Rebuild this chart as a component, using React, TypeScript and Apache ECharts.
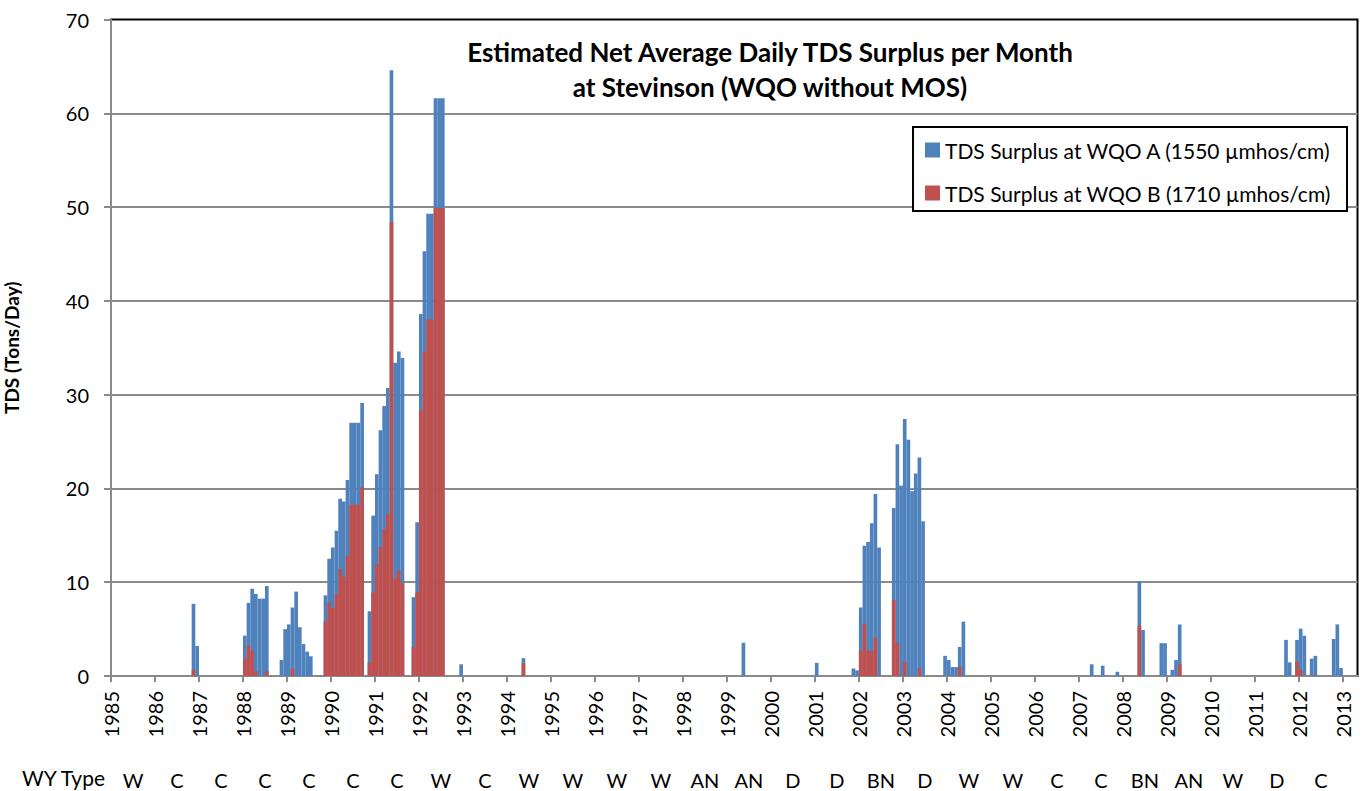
import React, { useEffect, useRef } from "react";
import * as echarts from "echarts";

// Months are counted from January 1985 (index 0)
const START_YEAR = 1985;
const TOTAL_MONTHS = 340;

const yearLabels = [
  "1985", "1986", "1987", "1988", "1989", "1990", "1991", "1992", "1993", "1994",
  "1995", "1996", "1997", "1998", "1999", "2000", "2001", "2002", "2003", "2004",
  "2005", "2006", "2007", "2008", "2009", "2010", "2011", "2012", "2013",
];

const wyTypes = [
  "W", "C", "C", "C", "C", "C", "C", "W", "C", "W", "W", "W", "W", "AN",
  "AN", "D", "D", "BN", "D", "W", "W", "C", "C", "BN", "AN", "W", "D", "C",
];

// TDS Surplus at WQO A (1550 µmhos/cm) — [month, tons/day]
const surplusA: [string, number][] = [
  ["1986-11", 7.7], ["1986-12", 3.2],
  ["1988-01", 4.3], ["1988-02", 7.8], ["1988-03", 9.3], ["1988-04", 8.75],
  ["1988-05", 8.25], ["1988-06", 8.25], ["1988-07", 9.6],
  ["1988-11", 1.7], ["1988-12", 5.0], ["1989-01", 5.5], ["1989-02", 7.3],
  ["1989-03", 9.0], ["1989-04", 5.2], ["1989-05", 3.4], ["1989-06", 2.6], ["1989-07", 2.1],
  ["1989-11", 8.6], ["1989-12", 12.5], ["1990-01", 13.7], ["1990-02", 15.5],
  ["1990-03", 18.9], ["1990-04", 18.6], ["1990-05", 20.9], ["1990-06", 27.0],
  ["1990-07", 27.0], ["1990-08", 27.0], ["1990-09", 29.1],
  ["1990-11", 6.9], ["1990-12", 17.1], ["1991-01", 21.5], ["1991-02", 26.2],
  ["1991-03", 28.8], ["1991-04", 30.7], ["1991-05", 64.6], ["1991-06", 33.4],
  ["1991-07", 34.6], ["1991-08", 33.9],
  ["1991-11", 8.4], ["1991-12", 16.4], ["1992-01", 38.6], ["1992-02", 45.3],
  ["1992-03", 49.3], ["1992-04", 49.3], ["1992-05", 61.6], ["1992-06", 61.6], ["1992-07", 61.6],
  ["1992-12", 1.25], ["1994-05", 1.9], ["1999-05", 3.55], ["2001-01", 1.4],
  ["2001-11", 0.8], ["2001-12", 0.6], ["2002-01", 7.3], ["2002-02", 13.9],
  ["2002-03", 14.3], ["2002-04", 16.3], ["2002-05", 19.4], ["2002-06", 13.7],
  ["2002-10", 17.9], ["2002-11", 24.7], ["2002-12", 20.3], ["2003-01", 27.4],
  ["2003-02", 25.2], ["2003-03", 19.7], ["2003-04", 21.6], ["2003-05", 23.3], ["2003-06", 16.5],
  ["2003-12", 2.15], ["2004-01", 1.7], ["2004-02", 0.95], ["2004-03", 0.95],
  ["2004-04", 3.1], ["2004-05", 5.8],
  ["2007-04", 1.25], ["2007-07", 1.1], ["2007-11", 0.45],
  ["2008-05", 10.1], ["2008-06", 4.9], ["2008-11", 3.5], ["2008-12", 3.5],
  ["2009-02", 0.65], ["2009-03", 1.7], ["2009-04", 5.5],
  ["2011-09", 3.85], ["2011-10", 1.45], ["2011-12", 3.85], ["2012-01", 5.05],
  ["2012-02", 4.3], ["2012-04", 1.85], ["2012-05", 2.15],
  ["2012-10", 3.95], ["2012-11", 5.5], ["2012-12", 0.85],
];

// TDS Surplus at WQO B (1710 µmhos/cm) — [month, tons/day]
const surplusB: [string, number][] = [
  ["1986-11", 0.65],
  ["1988-01", 1.8], ["1988-02", 3.3], ["1988-03", 2.7], ["1988-04", 0.5], ["1988-07", 0.5],
  ["1989-02", 0.8],
  ["1989-11", 5.8], ["1989-12", 7.8], ["1990-01", 7.25], ["1990-02", 8.7],
  ["1990-03", 11.4], ["1990-04", 10.6], ["1990-05", 12.8], ["1990-06", 18.25],
  ["1990-07", 18.25], ["1990-08", 18.25], ["1990-09", 20.1],
  ["1990-11", 1.4], ["1990-12", 8.9], ["1991-01", 11.9], ["1991-02", 13.75],
  ["1991-03", 15.6], ["1991-04", 17.25], ["1991-05", 48.4], ["1991-06", 10.4],
  ["1991-07", 11.3], ["1991-08", 9.9],
  ["1991-11", 3.1], ["1991-12", 8.9], ["1992-01", 28.3], ["1992-02", 34.6],
  ["1992-03", 38.0], ["1992-04", 38.0], ["1992-05", 49.9], ["1992-06", 49.9], ["1992-07", 49.9],
  ["1994-05", 1.35],
  ["2002-01", 2.7], ["2002-02", 5.6], ["2002-03", 2.7], ["2002-04", 2.7], ["2002-05", 4.1],
  ["2002-10", 8.1], ["2002-11", 3.5], ["2003-01", 1.5], ["2003-05", 0.8],
  ["2004-04", 0.95], ["2008-05", 5.35], ["2009-04", 1.25],
  ["2011-12", 1.55], ["2012-01", 0.65], ["2012-04", 0.1],
];

const FONT = "Lato";
const GRID_GRAY = "#8a8a8a";

function toPoints(list: [string, number][]) {
  return list.map(([ym, v]) => {
    const [y, m] = ym.split("-").map(Number);
    return [(y - START_YEAR) * 12 + (m - 1) + 0.5, v];
  });
}

export default function App() {
  const ref = useRef<HTMLDivElement>(null);

  useEffect(() => {
    if (!ref.current) return;
    const chart = echarts.init(ref.current, undefined, { renderer: "svg" });
    const yearTicks = yearLabels.map((_, k) => k * 12);
    const typeTicks = wyTypes.map((_, k) => k * 12 + 6);

    chart.setOption({
      animation: false,
      backgroundColor: "#fff",
      textStyle: { fontFamily: FONT },
      title: {
        text: "Estimated Net Average Daily TDS Surplus per Month\nat Stevinson (WQO without MOS)",
        left: 765,
        top: 29,
        textAlign: "center",
        textStyle: { fontFamily: FONT, fontSize: 26, fontWeight: "bold", lineHeight: 35, color: "#000" },
      },
      legend: {
        orient: "vertical",
        left: 920,
        top: 134,
        z: 10,
        icon: "rect",
        itemWidth: 15,
        itemHeight: 15,
        itemGap: 21,
        textStyle: { fontFamily: FONT, fontSize: 21, lineHeight: 22, color: "#000" },
        data: ["TDS Surplus at WQO A (1550 µmhos/cm)", "TDS Surplus at WQO B (1710 µmhos/cm)"],
      },
      graphic: [
        {
          type: "rect",
          z: 5,
          shape: { x: 913, y: 127, width: 434, height: 84 },
          style: { fill: "#fff", stroke: "#000", lineWidth: 2 },
        },
        {
          type: "text",
          left: 22,
          top: 767,
          style: { text: "WY Type", font: `21px ${FONT}`, fill: "#000" },
        },
      ],
      grid: {
        left: 111,
        right: 10.5,
        top: 19.5,
        bottom: 115,
        show: true,
        borderColor: "#000",
        borderWidth: 2,
        backgroundColor: "transparent",
        containLabel: false,
        outerBoundsMode: "none",
      },
      xAxis: [
        {
          type: "value",
          min: 0,
          max: TOTAL_MONTHS,
          axisLine: { show: true, lineStyle: { color: GRID_GRAY, width: 2 } },
          axisTick: { show: true, customValues: yearTicks, length: 6, lineStyle: { color: GRID_GRAY, width: 2 } },
          axisLabel: {
            customValues: yearTicks,
            rotate: 90,
            margin: 15,
            fontSize: 20,
            fontFamily: FONT,
            color: "#000",
            formatter: (v: number) => yearLabels[Math.round(v / 12)] ?? "",
          },
          splitLine: { show: false },
        },
        {
          type: "value",
          min: 0,
          max: TOTAL_MONTHS,
          position: "bottom",
          offset: 86,
          axisLine: { show: false },
          axisTick: { show: false },
          axisLabel: {
            customValues: typeTicks,
            margin: 8,
            fontSize: 20,
            fontFamily: FONT,
            color: "#000",
            formatter: (v: number) => wyTypes[Math.floor(v / 12)] ?? "",
          },
          splitLine: { show: false },
        },
      ],
      yAxis: {
        type: "value",
        min: 0,
        max: 70,
        interval: 10,
        name: "TDS (Tons/Day)",
        nameLocation: "middle",
        nameRotate: 90,
        nameGap: 90,
        nameTextStyle: { fontFamily: FONT, fontSize: 19, fontWeight: "bold", color: "#000" },
        axisLine: { show: true, lineStyle: { color: GRID_GRAY, width: 2 } },
        axisTick: { show: true, length: 7, lineStyle: { color: GRID_GRAY, width: 2 } },
        axisLabel: { fontSize: 20, fontFamily: FONT, color: "#000", margin: 22 },
        splitLine: { show: true, showMaxLine: false, lineStyle: { color: GRID_GRAY, width: 2 } },
      },
      series: [
        {
          name: "TDS Surplus at WQO A (1550 µmhos/cm)",
          type: "bar",
          xAxisIndex: 0,
          barWidth: "100%",
          barGap: "-100%",
          itemStyle: { color: "#4F81BD" },
          data: toPoints(surplusA),
        },
        {
          name: "TDS Surplus at WQO B (1710 µmhos/cm)",
          type: "bar",
          xAxisIndex: 0,
          barWidth: "100%",
          barGap: "-100%",
          itemStyle: { color: "#C0504D" },
          data: toPoints(surplusB),
        },
      ],
    });
    return () => chart.dispose();
  }, []);

  return <div ref={ref} style={{ width: 1368, height: 791, position: "absolute", left: 0, top: 0 }} />;
}
